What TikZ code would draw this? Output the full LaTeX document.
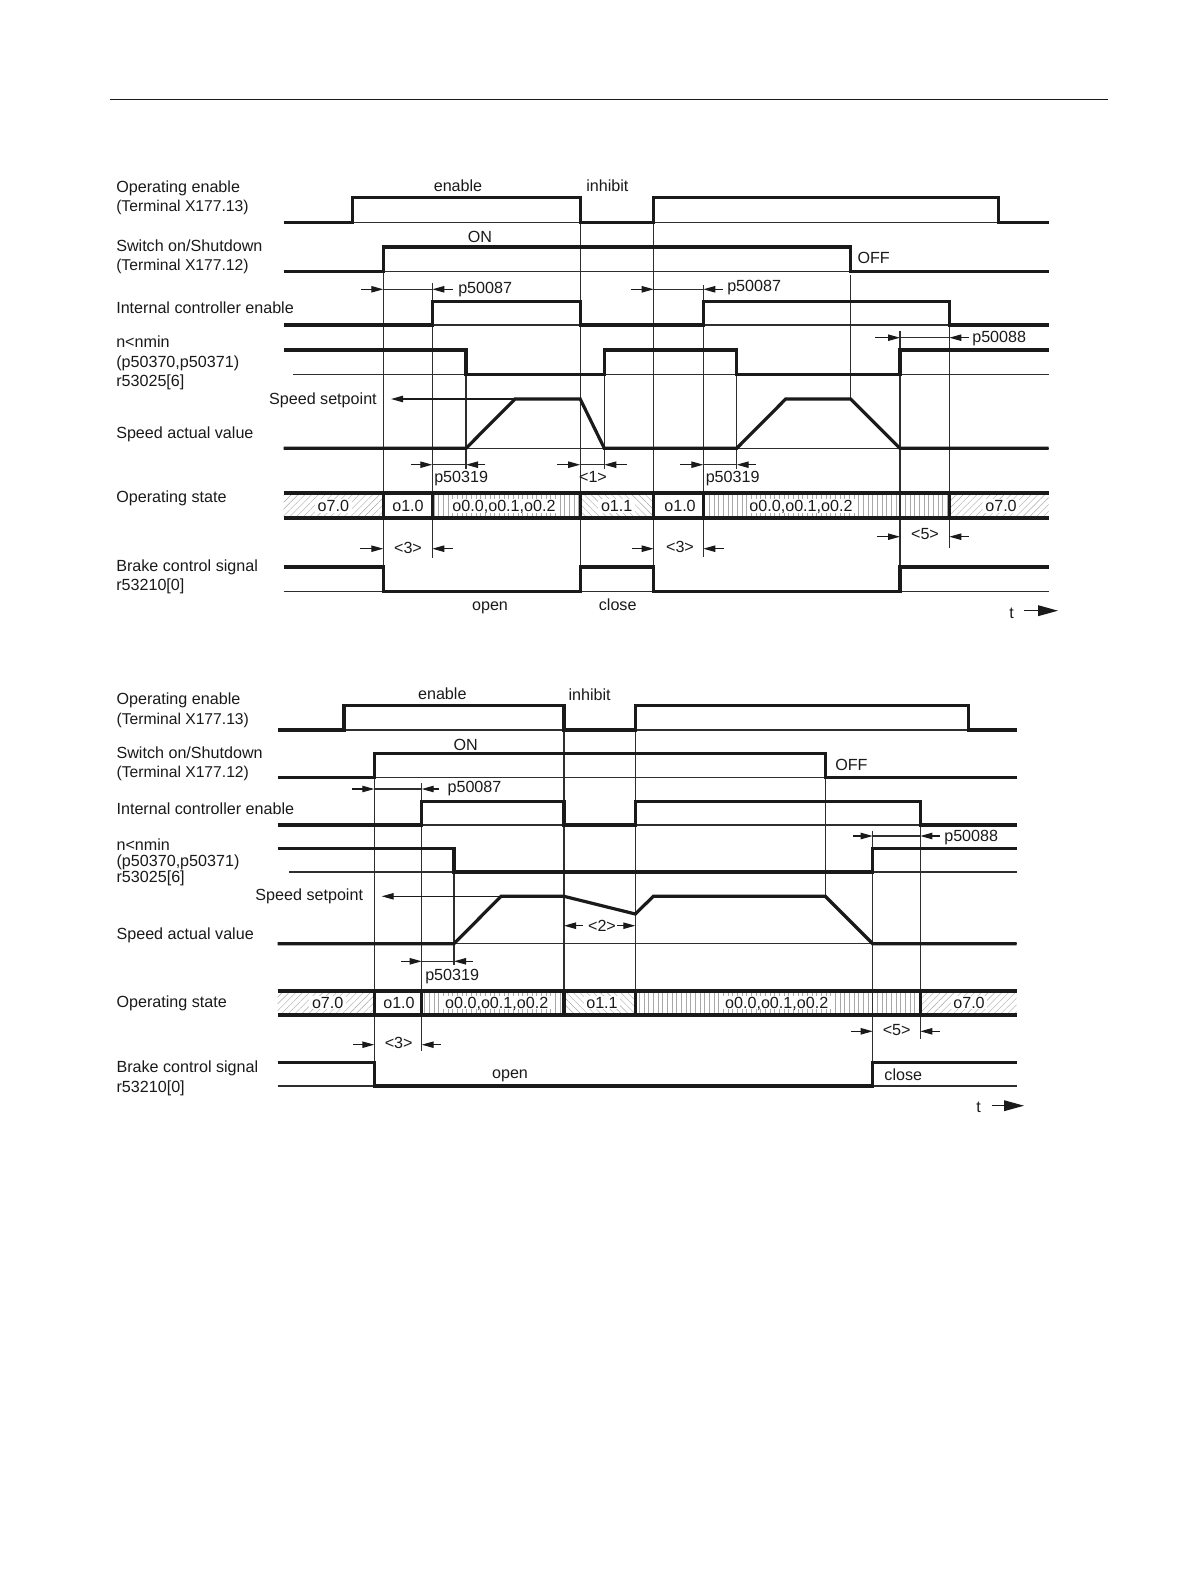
\documentclass[tikz,border=0pt]{standalone}
\usepackage{fontspec}
\setmainfont{Liberation Sans}
\usetikzlibrary{arrows.meta,patterns.meta}
\definecolor{ink}{HTML}{1A1A1A}
\definecolor{thinink}{HTML}{2E2E2E}
\definecolor{hatchink}{HTML}{A8A8A8}
\tikzset{
  lbl/.style={font=\fontsize{12.1}{14}\selectfont,text=ink,inner sep=0pt,text height=11pt,text depth=3pt},
  lw/.style={lbl,anchor=west},
  lwt/.style={lbl,anchor=west,font=\fontsize{11.75}{14}\selectfont},
  le/.style={lbl,anchor=east},
  lc/.style={lbl,anchor=center},
  st/.style={lbl,anchor=center,fill=white,inner xsep=2pt,text height=9pt,text depth=1pt},
  sig/.style={draw=ink,line width=2.4pt,line join=miter,line cap=butt},
  thin base/.style={draw=thinink,line width=.8pt},
  bar/.style={draw=ink,line width=2.8pt},
  sep/.style={draw=ink,line width=2.5pt},
  dimarrow/.style={draw=ink,line width=.8pt,-{Triangle[length=9pt,width=4.8pt]}},
  timearrow/.style={draw=ink,line width=1pt,-{Triangle[length=15pt,width=8pt]}},
  hne/.style={pattern={Lines[angle=45,distance=3.6pt,line width=.3pt]},pattern color=hatchink},
  hnw/.style={pattern={Lines[angle=-45,distance=3.6pt,line width=.3pt]},pattern color=hatchink},
  hv/.style={pattern={Lines[angle=90,distance=3.5pt,line width=.3pt]},pattern color=hatchink},
}
\begin{document}
\begin{tikzpicture}[x=.75pt,y=-.75pt]
\useasboundingbox (0,0) rectangle (1191,1587);
\fill[white] (0,0) rectangle (1191,1587);
\draw[thin base,line width=.8pt,draw=ink] (109.5,99.5) -- (1108,99.5);

% ===== first diagram =====
\def\L{283.7}\def\R{1048.7}
\def\Ta{352.3}\def\Tb{383.3}\def\Tc{432.3}\def\Td{466}\def\Te{515}\def\Tf{580.2}
\def\Tg{604.3}\def\Th{653.7}\def\Ti{703.3}\def\Tj{736.7}\def\Tk{785.7}\def\Tl{850.7}
\def\Tm{900}\def\Tn{949.3}\def\To{998.3}
\path[hne] (\L,493) rectangle (\Tb,518);
\path[hv]  (\Tc,493) rectangle (\Tf,518);
\path[hnw] (\Tf,493) rectangle (\Th,518);
\path[hv]  (\Ti,493) rectangle (\Tn,518);
\path[hne] (\Tn,493) rectangle (\R,518);
% baselines
\foreach \yy in {222.3,271.7,325,448.3} \draw[thin base] (\L,\yy) -- (\R,\yy);
\draw[thin base] (293,374.3) -- (\R,374.3);
\draw[thin base] (\L,591.7) -- (\R,591.7);
% time marks
\draw[thin base] (\Tb,271) -- (\Tb,591);
\draw[thin base] (\Tc,283) -- (\Tc,557.7);
\draw[thin base] (\Td,350) -- (\Td,468.5);
\draw[thin base] (\Tf,197.7) -- (\Tf,567);
\draw[thin base] (\Tg,374) -- (\Tg,469);
\draw[thin base] (\Th,197.7) -- (\Th,591);
\draw[thin base] (\Ti,285) -- (\Ti,556.7);
\draw[thin base] (\Tj,350) -- (\Tj,469);
\draw[thin base] (\Tl,275) -- (\Tl,399);
\draw[thin base] (\Tm,330.7) -- (\Tm,567);
\draw[thin base] (\Tn,301.3) -- (\Tn,547.7);
% signals
\draw[sig] (\L,222.3) -- (\Ta,222.3) -- (\Ta,197.7) -- (\Tf,197.7) -- (\Tf,222.3) -- (\Th,222.3) -- (\Th,197.7) -- (\To,197.7) -- (\To,222.3) -- (\R,222.3);
\draw[sig] (\L,271.7) -- (\Tb,271.7) -- (\Tb,247) -- (\Tl,247) -- (\Tl,271.7) -- (\R,271.7);
\draw[sig] (\L,325) -- (\Tc,325) -- (\Tc,301.3) -- (\Tf,301.3) -- (\Tf,325) -- (\Ti,325) -- (\Ti,301.3) -- (\Tn,301.3) -- (\Tn,325) -- (\R,325);
\draw[sig] (\L,350) -- (\Td,350) -- (\Td,374.3) -- (\Tg,374.3) -- (\Tg,350) -- (\Tj,350) -- (\Tj,374.3) -- (\Tm,374.3) -- (\Tm,350) -- (\R,350);
\draw[sig] (\L,448.3) -- (\Td,448.3) -- (\Te,399) -- (\Tf,399) -- (\Tg,448.3) -- (\Tj,448.3) -- (\Tk,399) -- (\Tl,399) -- (\Tm,448.3) -- (\R,448.3);
\draw[sig] (\L,567) -- (\Tb,567) -- (\Tb,591.7) -- (\Tf,591.7) -- (\Tf,567) -- (\Th,567) -- (\Th,591.7) -- (\Tm,591.7) -- (\Tm,567) -- (\R,567);
% state bars
\draw[bar] (\L,493) -- (\R,493);
\draw[bar] (\L,518) -- (\R,518);
\foreach \xx in {\Tb,\Tc,\Tf,\Th,\Ti,\Tn} \draw[sep] (\xx,493) -- (\xx,518);
% dimension arrows
\draw[dimarrow] (361,289.3) -- (\Tb,289.3);
\draw[thin base] (\Tb,289.3) -- (\Tc,289.3);
\draw[dimarrow] (453.3,289.3) -- (\Tc,289.3);
\draw[dimarrow] (630.7,289.3) -- (\Th,289.3);
\draw[thin base] (\Th,289.3) -- (\Ti,289.3);
\draw[dimarrow] (723,289.3) -- (\Ti,289.3);
\draw[dimarrow] (875,337.7) -- (\Tm,337.7);
\draw[thin base] (\Tm,337.7) -- (\Tn,337.7);
\draw[dimarrow] (969,337.7) -- (\Tn,337.7);
\draw[dimarrow] (\Te,399) -- (391,399);
\draw[dimarrow] (411,464.7) -- (\Tc,464.7);
\draw[thin base] (\Tc,464.7) -- (\Td,464.7);
\draw[dimarrow] (485,464.7) -- (\Td,464.7);
\draw[dimarrow] (557,464.7) -- (\Tf,464.7);
\draw[thin base] (\Tf,464.7) -- (\Tg,464.7);
\draw[dimarrow] (626.7,464.7) -- (\Tg,464.7);
\draw[dimarrow] (680,464.7) -- (\Ti,464.7);
\draw[thin base] (\Ti,464.7) -- (\Tj,464.7);
\draw[dimarrow] (755.5,464.7) -- (\Tj,464.7);
\draw[dimarrow] (360,548.7) -- (\Tb,548.7);
\draw[dimarrow] (452.7,548.7) -- (\Tc,548.7);
\draw[dimarrow] (632,548.7) -- (\Th,548.7);
\draw[dimarrow] (724,548.7) -- (\Ti,548.7);
\draw[dimarrow] (877,536.7) -- (\Tm,536.7);
\draw[dimarrow] (969,536.7) -- (\Tn,536.7);
\draw[timearrow] (1024,610.7) -- (1058,610.7);
% texts
\node[lw] (a1) at (116,186.7) {Operating enable};
\node[lwt] (a2) at (116,205.7) {(Terminal X177.13)};
\node[lw] (a3) at (116,245.7) {Switch on/Shutdown};
\node[lwt] (a4) at (116,265) {(Terminal X177.12)};
\node[lw] (a5) at (116,308) {Internal controller enable};
\node[lw] (a6) at (116,342) {n<nmin};
\node[lw] (a7) at (116,361.7) {(p50370,p50371)};
\node[lw] (a8) at (116,380.7) {r53025[6]};
\node[le] (a9) at (377,399) {Speed setpoint};
\node[lw] (a10) at (116,433) {Speed actual value};
\node[lw] (a11) at (116,497.3) {Operating state};
\node[lw] (a12) at (116,566) {Brake control signal};
\node[lw] (a13) at (116,585) {r53210[0]};
\node[lc] (a14) at (458,185.7) {enable};
\node[lw] (a15) at (586,185.7) {inhibit};
\node[lc] (a16) at (480,237) {ON};
\node[lw] (a17) at (857.3,257.7) {OFF};
\node[lw] (a18) at (458,288) {p50087};
\node[lw] (a19) at (727,286) {p50087};
\node[lw] (a20) at (972,337.5) {p50088};
\node[lw] (a21) at (434,477) {p50319};
\node[lc] (a22) at (593,477) {<1>};
\node[lw] (a23) at (705.5,477) {p50319};
\node[st] (a24) at (333.3,506) {o7.0};
\node[st] (a25) at (408,506) {o1.0};
\node[st] (a26) at (504,506) {o0.0,o0.1,o0.2};
\node[st] (a27) at (616.7,506) {o1.1};
\node[st] (a28) at (680,506) {o1.0};
\node[st] (a29) at (801,506) {o0.0,o0.1,o0.2};
\node[st] (a30) at (1001,506) {o7.0};
\node[lc] (a31) at (408,548) {<3>};
\node[lc] (a32) at (680,547) {<3>};
\node[lc] (a33) at (925,534) {<5>};
\node[lc] (a34) at (490,605) {open};
\node[lc] (a35) at (617.7,605) {close};
\node[lc] (a36) at (1011.7,612.7) {t};

% ===== second diagram =====
\def\L{277.7}\def\R{1016.7}
\def\Sa{344}\def\Sb{374.3}\def\Sc{421.7}\def\Sd{454}\def\Se{501}\def\Sf{564}
\def\Sg{635.3}\def\Sh{653.3}\def\Si{825.3}\def\Sj{872.7}\def\Sk{920.3}\def\Sl{968.3}
\path[hne] (\L,991) rectangle (\Sb,1014.7);
\path[hv]  (\Sc,991) rectangle (\Sf,1014.7);
\path[hnw] (\Sf,991) rectangle (\Sg,1014.7);
\path[hv]  (\Sg,991) rectangle (\Sk,1014.7);
\path[hne] (\Sk,991) rectangle (\R,1014.7);
\foreach \yy in {730,777.3,825,943.7,1086} \draw[thin base] (\L,\yy) -- (\R,\yy);
\draw[thin base] (289,872) -- (\R,872);
\draw[thin base] (\Sb,777) -- (\Sb,1086);
\draw[thin base] (\Sc,783) -- (\Sc,1050.7);
\draw[thin base] (\Sd,848.3) -- (\Sd,965);
\draw[thin base] (\Sf,705.3) -- (\Sf,1014.7);
\draw[thin base] (\Sg,705.3) -- (\Sg,1014.7);
\draw[thin base] (\Si,753.3) -- (\Si,896.3);
\draw[thin base] (\Sj,830.7) -- (\Sj,1062.3);
\draw[thin base] (\Sk,801.3) -- (\Sk,1039.3);
\draw[sig] (\L,730) -- (\Sa,730) -- (\Sa,705.3) -- (\Sf,705.3) -- (\Sf,730) -- (\Sg,730) -- (\Sg,705.3) -- (\Sl,705.3) -- (\Sl,730) -- (\R,730);
\draw[sig] (\L,777.3) -- (\Sb,777.3) -- (\Sb,753.3) -- (\Si,753.3) -- (\Si,777.3) -- (\R,777.3);
\draw[sig] (\L,825) -- (\Sc,825) -- (\Sc,801.3) -- (\Sf,801.3) -- (\Sf,825) -- (\Sg,825) -- (\Sg,801.3) -- (\Sk,801.3) -- (\Sk,825) -- (\R,825);
\draw[sig] (\L,848.3) -- (\Sd,848.3) -- (\Sd,872) -- (\Sj,872) -- (\Sj,848.3) -- (\R,848.3);
\draw[sig] (\L,943.7) -- (\Sd,943.7) -- (\Se,896.3) -- (\Sf,896.3) -- (\Sg,914) -- (\Sh,896.3) -- (\Si,896.3) -- (\Sj,943.7) -- (\R,943.7);
\draw[sig] (\L,1062.3) -- (\Sb,1062.3) -- (\Sb,1086) -- (\Sj,1086) -- (\Sj,1062.3) -- (\R,1062.3);
\draw[bar,line width=3.3pt] (\L,991) -- (\R,991);
\draw[bar,line width=3.3pt] (\L,1014.7) -- (\R,1014.7);
\foreach \xx in {\Sb,\Sc,\Sf,\Sg,\Sk} \draw[sep] (\xx,991) -- (\xx,1014.7);
\draw[dimarrow] (352.3,789) -- (\Sb,789);
\draw[thin base] (\Sb,789) -- (\Sc,789);
\draw[dimarrow] (439.3,789) -- (\Sc,789);
\draw[dimarrow] (853.3,836) -- (\Sj,836);
\draw[thin base] (\Sj,836) -- (\Sk,836);
\draw[dimarrow] (940,836) -- (\Sk,836);
\draw[dimarrow] (\Se,896.3) -- (381.7,896.3);
\draw[dimarrow] (583,925.7) -- (\Sf,925.7);
\draw[dimarrow] (617,925.7) -- (\Sg,925.7);
\draw[dimarrow] (401,961.3) -- (\Sc,961.3);
\draw[thin base] (\Sc,961.3) -- (\Sd,961.3);
\draw[dimarrow] (472.7,961.3) -- (\Sd,961.3);
\draw[dimarrow] (353.3,1044.7) -- (\Sb,1044.7);
\draw[dimarrow] (441,1044.7) -- (\Sc,1044.7);
\draw[dimarrow] (851,1031.3) -- (\Sj,1031.3);
\draw[dimarrow] (940,1031.3) -- (\Sk,1031.3);
\draw[timearrow] (991.7,1105.7) -- (1024,1105.7);
\node[lw] (b1) at (116.3,699.3) {Operating enable};
\node[lwt] (b2) at (116.3,718.7) {(Terminal X177.13)};
\node[lw] (b3) at (116.3,752.7) {Switch on/Shutdown};
\node[lwt] (b4) at (116.3,772) {(Terminal X177.12)};
\node[lw] (b5) at (116.3,809.3) {Internal controller enable};
\node[lw] (b6) at (116.3,844.7) {n<nmin};
\node[lw] (b7) at (116.3,861) {(p50370,p50371)};
\node[lw] (b8) at (116.3,877) {r53025[6]};
\node[le] (b9) at (363.3,895.3) {Speed setpoint};
\node[lw] (b10) at (116.3,934.3) {Speed actual value};
\node[lw] (b11) at (116.3,1002) {Operating state};
\node[lw] (b12) at (116.3,1067.3) {Brake control signal};
\node[lw] (b13) at (116.3,1086.7) {r53210[0]};
\node[lc] (b14) at (442.3,694) {enable};
\node[lw] (b15) at (568.3,694.7) {inhibit};
\node[lc] (b16) at (465.7,745) {ON};
\node[lw] (b17) at (835,765) {OFF};
\node[lw] (b18) at (447.3,787.3) {p50087};
\node[lw] (b19) at (944,836) {p50088};
\node[lc] (b20) at (602,926) {<2>};
\node[lw] (b21) at (425,975.3) {p50319};
\node[st] (b22) at (327.7,1002.7) {o7.0};
\node[st] (b23) at (399,1002.7) {o1.0};
\node[st] (b24) at (496.7,1002.7) {o0.0,o0.1,o0.2};
\node[st] (b25) at (602,1002.7) {o1.1};
\node[st] (b26) at (776.7,1002.7) {o0.0,o0.1,o0.2};
\node[st] (b27) at (969,1002.7) {o7.0};
\node[lc] (b28) at (398.7,1043) {<3>};
\node[lc] (b29) at (896.7,1030) {<5>};
\node[lc] (b30) at (510,1073) {open};
\node[lc] (b31) at (903.3,1075) {close};
\node[lc] (b32) at (978.7,1107) {t};
\end{tikzpicture}
\end{document}
